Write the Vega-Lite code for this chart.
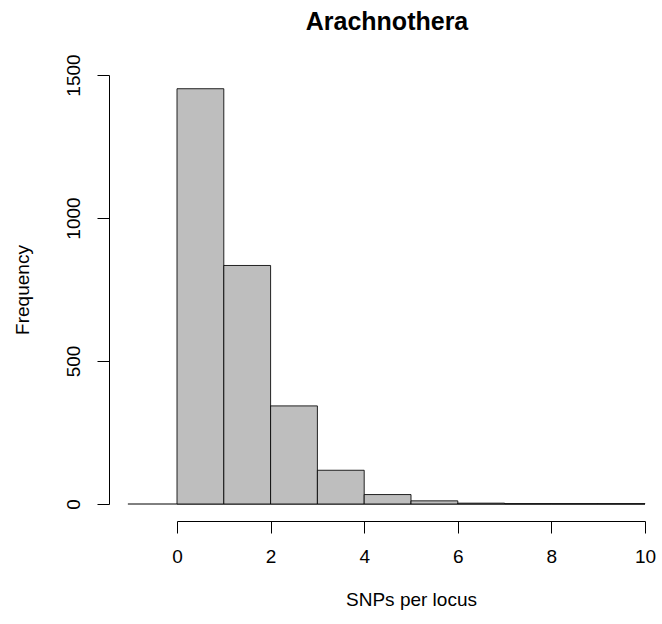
{
  "$schema": "https://vega.github.io/schema/vega-lite/v6.json",
  "width": 468,
  "height": 429,
  "autosize": {"type": "none"},
  "padding": {"left": 177, "top": 75, "right": 17, "bottom": 120},
  "background": "white",
  "config": {
    "view": {"stroke": null},
    "font": "Liberation Sans"
  },
  "title": {
    "text": "Arachnothera",
    "font": "Liberation Sans",
    "fontSize": 25,
    "fontWeight": "bold",
    "color": "black",
    "anchor": "middle",
    "dx": -24,
    "offset": 19
  },
  "datasets": {
    "bins": [
      {"start": 0, "end": 1, "count": 1452},
      {"start": 1, "end": 2, "count": 834},
      {"start": 2, "end": 3, "count": 343},
      {"start": 3, "end": 4, "count": 118},
      {"start": 4, "end": 5, "count": 33},
      {"start": 5, "end": 6, "count": 11},
      {"start": 6, "end": 7, "count": 3},
      {"start": 7, "end": 8, "count": 1},
      {"start": 8, "end": 9, "count": 1},
      {"start": 9, "end": 10, "count": 1}
    ],
    "baseline": [{"from": -1.05, "to": 10, "level": 0}]
  },
  "layer": [
    {
      "data": {"name": "baseline"},
      "mark": {"type": "rule", "color": "black", "strokeWidth": 1, "clip": false},
      "encoding": {
        "x": {"field": "from", "type": "quantitative", "scale": {"domain": [0, 10]}},
        "x2": {"field": "to"},
        "y": {"field": "level", "type": "quantitative", "scale": {"domain": [0, 1500]}}
      }
    },
    {
      "data": {"name": "bins"},
      "mark": {"type": "rect", "fill": "#bebebe", "stroke": "black", "strokeWidth": 1, "strokeOpacity": 0.85},
      "encoding": {
        "x": {
          "field": "start", "type": "quantitative",
          "scale": {"domain": [0, 10], "nice": false, "zero": false},
          "axis": {
            "title": "SNPs per locus",
            "values": [0, 2, 4, 6, 8, 10],
            "format": "d",
            "offset": 17,
            "tickSize": 12,
            "tickColor": "black",
            "domainColor": "black",
            "labelFontSize": 19,
            "labelColor": "black",
            "labelPadding": 14,
            "labelFlush": false,
            "labelFont": "Liberation Sans",
            "titleFont": "Liberation Sans",
            "titleFontSize": 19,
            "titleFontWeight": "normal",
            "titleColor": "black",
            "titlePadding": 24,
            "grid": false
          }
        },
        "x2": {"field": "end"},
        "y": {
          "field": "count", "type": "quantitative",
          "scale": {"domain": [0, 1500], "nice": false},
          "axis": {
            "title": "Frequency",
            "values": [0, 500, 1000, 1500],
            "format": "d",
            "offset": 68,
            "tickSize": 12,
            "tickColor": "black",
            "domainColor": "black",
            "labelFontSize": 19,
            "labelColor": "black",
            "labelAngle": -90,
            "labelAlign": "center",
            "labelBaseline": "bottom",
            "labelPadding": 14,
            "labelFlush": false,
            "labelFont": "Liberation Sans",
            "titleFont": "Liberation Sans",
            "titleFontSize": 19,
            "titleFontWeight": "normal",
            "titleColor": "black",
            "titlePadding": 32,
            "grid": false
          }
        },
        "y2": {"datum": 0}
      }
    }
  ]
}
